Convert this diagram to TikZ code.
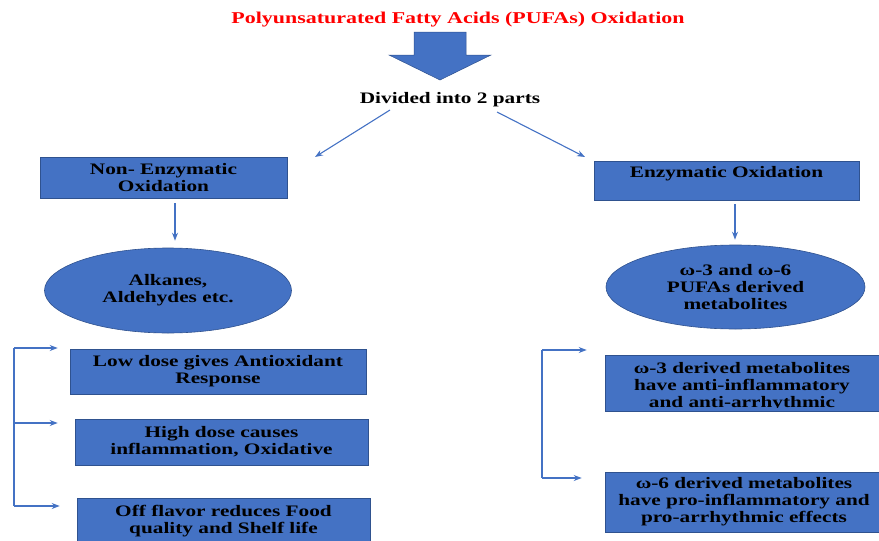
\documentclass[tikz,border=0pt]{standalone}
\usepackage{fontspec}
\setmainfont{Liberation Serif}[FakeStretch=1.33]
\usetikzlibrary{shapes.geometric,arrows.meta}
\definecolor{obox}{HTML}{4472C4}
\definecolor{oline}{HTML}{2F528F}
\definecolor{tred}{HTML}{FF0000}
\begin{document}
\begin{tikzpicture}[x=1pt,y=-1pt,
  txt/.style={font=\bfseries\fontsize{16}{17}\selectfont,align=center,inner sep=0pt},
  box/.style={txt,draw=oline,line width=0.6pt,fill=obox,rectangle},
  oval/.style={txt,draw=oline,line width=0.6pt,fill=obox,ellipse},
  link/.style={draw=obox,line width=1.1pt},
  conn/.style={link,-{Stealth[length=8pt,width=6pt]}}]
\useasboundingbox (0,0) rectangle (879,541);
\clip (0,0) rectangle (879,541);
% title and big arrow
\node[txt,text=tred,font=\bfseries\fontsize{16.5}{18}\selectfont] (title) at (458,20) {Polyunsaturated Fatty Acids (PUFAs) Oxidation};
\fill[obox,draw=oline,line width=0.5pt] (414,32) -- (466,32) -- (466,55) -- (491,55) -- (440,80) -- (389,55) -- (414,55) -- cycle;
\node[txt] (div) at (450,100) {Divided into 2 parts};
% level 1
\node[box,minimum width=247pt,minimum height=41pt] (ne) at (163.5,177.5) {Non- Enzymatic\\Oxidation};
\node[box,minimum width=265pt,minimum height=39pt] (en) at (726.5,180.5) {};
\node[txt] (ent) at (726.5,174) {Enzymatic Oxidation};
\coordinate (d1s) at (390,110);
\coordinate (d1e) at (315,157);
\coordinate (d2s) at (497,112);
\coordinate (d2e) at (585,157);
\draw[conn] (d1s) -- (d1e);
\draw[conn] (d2s) -- (d2e);
% ellipses
\node[oval,minimum width=247pt,minimum height=85pt] (alk) at (168,290.5) {Alkanes,\\Aldehydes etc.};
\node[oval,minimum width=259pt,minimum height=84pt] (pm) at (735.5,287) {ω-3 and ω-6\\PUFAs derived\\metabolites};
\coordinate (lx) at (175,0);
\coordinate (rx) at (735,0);
\draw[conn,shorten <=5pt,shorten >=7pt] (ne.south -| lx) -- (alk.north -| lx);
\draw[conn,shorten <=4pt,shorten >=5pt] (en.south -| rx) -- (pm.north -| rx);
% left boxes
\node[box,minimum width=296pt,minimum height=45pt] (b1) at (218,371.5) {Low dose gives Antioxidant\\Response};
\node[box,minimum width=293pt,minimum height=46pt] (b2) at (221.5,442) {High dose causes\\inflammation, Oxidative};
\node[box,minimum width=293pt,minimum height=46pt] (b3) at (223.5,521) {Off flavor reduces Food\\quality and Shelf life};
\coordinate (lt) at (14,348);
\coordinate (lm) at (14,423);
\coordinate (lb) at (14,506);
\draw[link] (lt) -- (lb);
\draw[conn,shorten >=12pt] (lt) -- (b1.west |- lt);
\draw[conn,shorten >=17pt] (lm) -- (b2.west |- lm);
\draw[conn,shorten >=17pt] (lb) -- (b3.west |- lb);
% right boxes
\node[box,minimum width=278pt,minimum height=56pt] (r1) at (744,383) {};
\begin{scope}
\clip (r1.north west) rectangle ([yshift=4pt]r1.south east);
\node[txt] (r1t) at (742,387) {ω-3 derived metabolites\\have anti-inflammatory\\and anti-arrhythmic};
\end{scope}
\node[box,minimum width=278pt,minimum height=60pt] (r2) at (744,502) {ω-6 derived metabolites\\have pro-inflammatory and\\pro-arrhythmic effects};
\coordinate (rt) at (542,350);
\coordinate (rb) at (542,478);
\draw[link] (rt) -- (rb);
\draw[conn,shorten >=18pt] (rt) -- (r1.west |- rt);
\draw[conn,shorten >=23pt] (rb) -- (r2.west |- rb);
\end{tikzpicture}
\end{document}
